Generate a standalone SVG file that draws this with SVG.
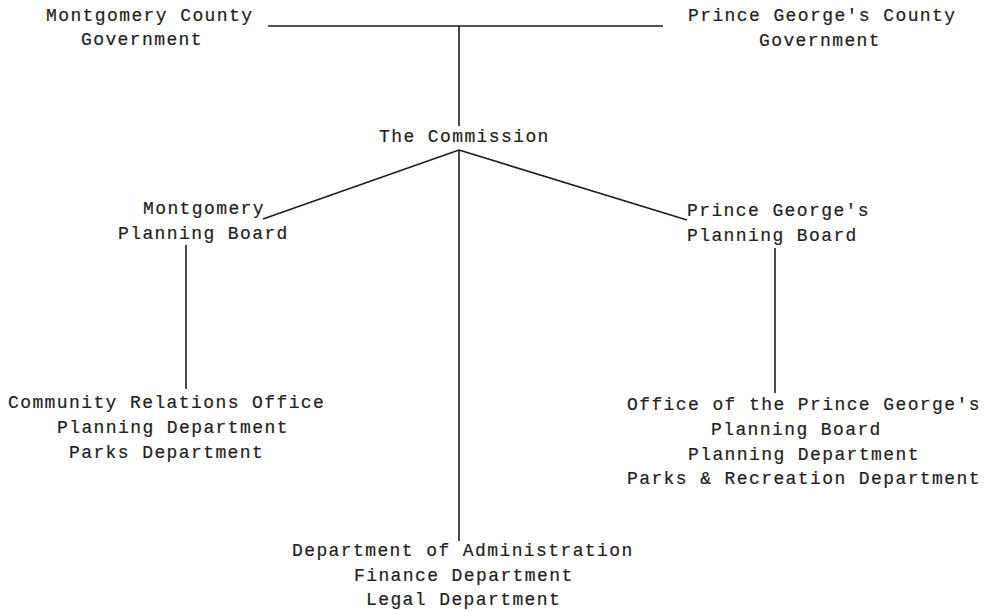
<svg xmlns="http://www.w3.org/2000/svg" width="991" height="611" viewBox="0 0 991 611">
<style>
text{font-family:"Liberation Mono","DejaVu Sans Mono",monospace;font-size:18px;letter-spacing:1.4px;fill:#222222;stroke:#222222;stroke-width:0.2}
.c line{stroke:#1e1e1e;stroke-width:1.6;fill:none}
</style>
<rect width="991" height="611" fill="#ffffff"/>
<g class="c" id="connectors">
<line x1="268" y1="26" x2="663" y2="26"/>
<line x1="459" y1="26" x2="459" y2="126"/>
<line x1="459" y1="150" x2="459" y2="541"/>
<line x1="459" y1="150" x2="263" y2="219"/>
<line x1="459" y1="150" x2="687" y2="220"/>
<line x1="186" y1="245" x2="186" y2="389"/>
<line x1="775" y1="248" x2="775" y2="393"/>
</g>
<g id="montgomery-county">
<text x="46" y="21">Montgomery County</text>
<text x="81" y="45">Government</text>
</g>
<g id="pg-county">
<text x="688" y="21">Prince George's County</text>
<text x="759" y="46">Government</text>
</g>
<g id="commission">
<text x="379" y="142">The Commission</text>
</g>
<g id="montgomery-board">
<text x="143" y="214">Montgomery</text>
<text x="118" y="239">Planning Board</text>
</g>
<g id="pg-board">
<text x="687" y="216">Prince George's</text>
<text x="687" y="241">Planning Board</text>
</g>
<g id="montgomery-depts">
<text x="8" y="408">Community Relations Office</text>
<text x="57" y="433">Planning Department</text>
<text x="69" y="458">Parks Department</text>
</g>
<g id="pg-depts">
<text x="627" y="410">Office of the Prince George's</text>
<text x="711" y="435">Planning Board</text>
<text x="688" y="460">Planning Department</text>
<text x="627" y="484">Parks &amp; Recreation Department</text>
</g>
<g id="admin">
<text x="292" y="556">Department of Administration</text>
<text x="354" y="581">Finance Department</text>
<text x="366" y="605">Legal Department</text>
</g>
</svg>
